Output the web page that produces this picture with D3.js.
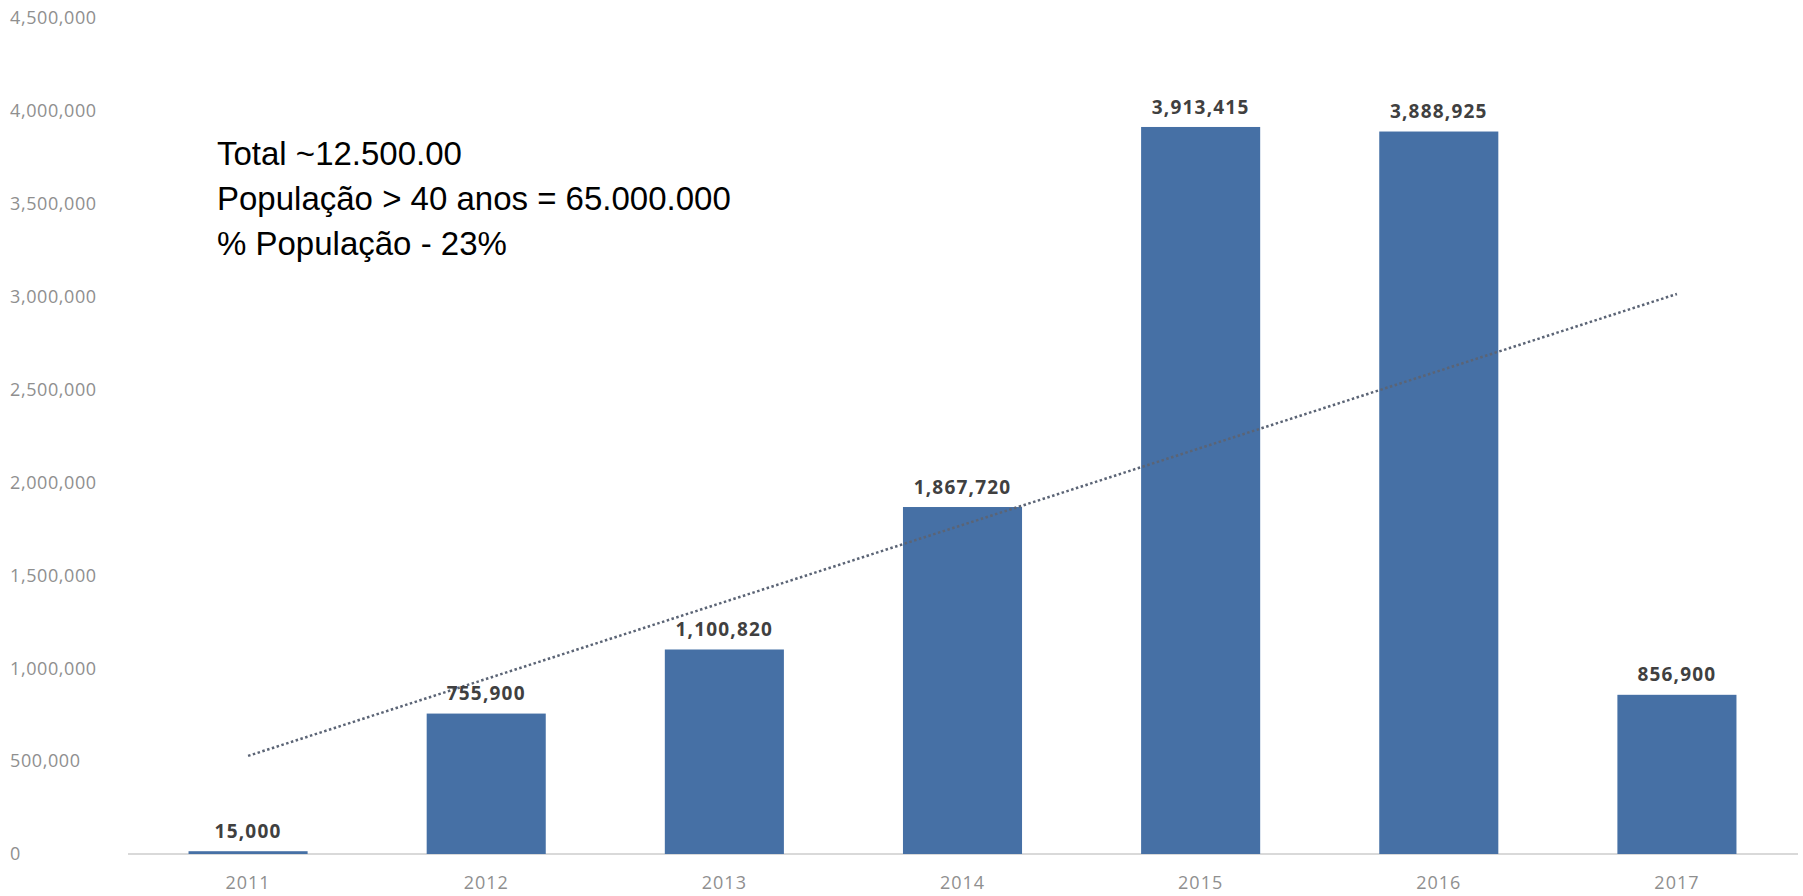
<!DOCTYPE html>
<html>
<head>
<meta charset="utf-8">
<script src="https://cdn.jsdelivr.net/npm/d3@7"></script>
<style>
  body { margin: 0; background: #fff; }
</style>
</head>
<body>
<div class="chart-container"></div>
<script>
const years = ["2011", "2012", "2013", "2014", "2015", "2016", "2017"];
const values = [15000, 755900, 1100820, 1867720, 3913415, 3888925, 856900];
const yTicks = [0, 500000, 1000000, 1500000, 2000000, 2500000, 3000000, 3500000, 4000000, 4500000];
const notes = ["Total ~12.500.00", "População > 40 anos = 65.000.000", "% População - 23%"];

const width = 1803;
const height = 896;
const plot = { left: 129, right: 1796, top: 18, bottom: 854 };

var svg = d3
  .select(".chart-container")
  .append("svg")
  .attr("width", width)
  .attr("height", height);

var x = d3.scaleBand()
  .domain(years)
  .range([plot.left, plot.right])
  .paddingInner(0.5)
  .paddingOuter(0.25);

var y = d3.scaleLinear()
  .domain([0, 4500000])
  .range([plot.bottom, plot.top]);

const fmt = d3.format(",");

// y tick labels (no axis line, labels sit at the left edge)
svg.append("g")
  .attr("class", "y-labels")
  .selectAll("text")
  .data(yTicks)
  .join("text")
  .attr("x", 10)
  .attr("y", d => y(d))
  .attr("dy", "0.35em")
  .style("font-family", "'Open Sans', sans-serif")
  .style("font-size", "18px")
  .style("letter-spacing", "0.6px")
  .style("fill", "#8f8f8f")
  .text(d => fmt(d));

// baseline
svg.append("line")
  .attr("x1", plot.left - 1)
  .attr("x2", plot.right + 2)
  .attr("y1", y(0))
  .attr("y2", y(0))
  .style("stroke", "#d9d9d9")
  .style("stroke-width", "2px");

// bars
svg.append("g")
  .selectAll("rect")
  .data(values)
  .join("rect")
  .attr("x", (d, i) => x(years[i]))
  .attr("width", x.bandwidth())
  .attr("y", d => y(d))
  .attr("height", d => y(0) - y(d))
  .style("fill", "#4670a5");

// x axis labels
var xAxis = d3.axisBottom(x).tickSize(0).tickPadding(22);
svg.append("g")
  .attr("class", "x-axis")
  .attr("transform", "translate(0," + y(0) + ")")
  .call(xAxis)
  .call(g => g.select(".domain").remove())
  .selectAll("text")
  .style("font-family", "'Open Sans', sans-serif")
  .style("font-size", "18px")
  .style("letter-spacing", "1px")
  .style("fill", "#8f8f8f");

// linear trendline (least squares over the bars)
const xs = values.map((d, i) => i + 1);
const mx = d3.mean(xs);
const my = d3.mean(values);
const slope = d3.sum(xs, (xi, i) => (xi - mx) * (values[i] - my)) / d3.sum(xs, xi => (xi - mx) * (xi - mx));
const icpt = my - slope * mx;
const trend = years.map((yr, i) => [x(yr) + x.bandwidth() / 2, y(icpt + slope * (i + 1))]);
const ends = [trend[0], trend[trend.length - 1]];

svg.append("path")
  .datum(ends)
  .attr("d", d3.line())
  .style("fill", "none")
  .style("stroke", "#5b6475")
  .style("stroke-width", "2.5px")
  .style("stroke-dasharray", "2.5,2.5");

// data labels
svg.append("g")
  .selectAll("text")
  .data(values)
  .join("text")
  .attr("x", (d, i) => x(years[i]) + x.bandwidth() / 2)
  .attr("y", d => y(d) - 20)
  .attr("dy", "0.35em")
  .attr("text-anchor", "middle")
  .style("font-family", "'Open Sans', sans-serif")
  .style("font-size", "19px")
  .style("letter-spacing", "1.2px")
  .style("font-weight", "bold")
  .style("fill", "#404040")
  .text(d => fmt(d));

// annotation text
svg.append("g")
  .selectAll("text")
  .data(notes)
  .join("text")
  .attr("x", 217)
  .attr("y", (d, i) => 165 + i * 45)
  .style("font-family", "'Liberation Sans', Arial, sans-serif")
  .style("font-size", "33px")
  .style("fill", "#000")
  .text(d => d);
</script>
</body>
</html>
